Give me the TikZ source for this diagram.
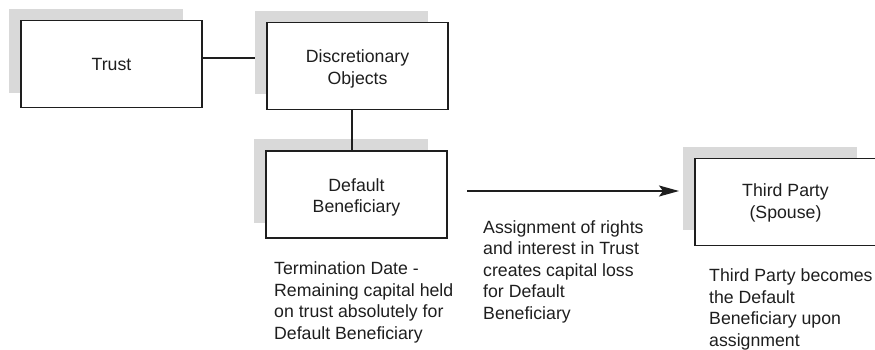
\documentclass[tikz,border=0pt]{standalone}
\usepackage{fontspec}
\setmainfont{Liberation Sans}
\usetikzlibrary{arrows.meta,calc}
\definecolor{shadowgray}{HTML}{D9D9D9}
\definecolor{inkgray}{HTML}{1E1E1E}
\tikzset{
  txt/.style={font=\fontsize{17.7}{21.5}\selectfont, text=inkgray},
  shadowbox/.style={fill=shadowgray, draw=none, inner sep=0pt, outer sep=0pt, rectangle},
  mainbox/.style={txt, draw=inkgray, line width=1.7pt, fill=white, rectangle, align=center,
    minimum width=181pt, minimum height=87pt, inner sep=0pt, outer sep=0pt},
  boxlabel/.style={txt, align=center, inner sep=0pt},
  note/.style={txt, align=left, anchor=base west, inner sep=0pt},
  link/.style={draw=inkgray, line width=1.5pt},
}
\begin{document}
\begin{tikzpicture}[x=1pt,y=-1pt]
\useasboundingbox (0,0) rectangle (875,349);
% shadows
\node[shadowbox, minimum width=174pt, minimum height=84pt] (trustS) at (96,51) {};
\node[shadowbox, minimum width=173pt, minimum height=83pt] (discS) at (341.5,52.5) {};
\node[shadowbox, minimum width=174pt, minimum height=84pt] (defS) at (341,181) {};
\node[shadowbox, minimum width=174pt, minimum height=83pt] (thirdS) at (770,188.5) {};
% boxes
\node[mainbox] (trust) at (111.5,64) {Trust};
\node[mainbox] (disc) at (357.5,66) {};
\node[mainbox] (def) at (356.5,194.5) {};
\node[mainbox] (third) at (785.5,202) {};
\node[boxlabel, yshift=-3pt] (discL) at (disc.center) {Discretionary\\Objects};
\node[boxlabel, yshift=-3pt] (defL) at (def.center) {Default\\Beneficiary};
\node[boxlabel, yshift=-1pt] (thirdL) at (third.center) {Third Party\\(Spouse)};
% connectors
\coordinate (tA) at ($(trust.east)+(0,-6)$);
\draw[link] (tA) -- (tA -| discS.west);
\coordinate (dA) at ($(disc.south)+(-5.5,0)$);
\draw[link] (dA) -- (dA |- def.north);
\coordinate (aA) at ($(def.east)+(20,-3.5)$);
\draw[link, -{Stealth[length=20pt,width=11pt,inset=4pt]}, shorten >=4pt] (aA) -- (aA -| thirdS.west);
% notes (anchored at the baseline of their last line)
\node[note] (termText) at (274,339) {Termination Date -\\Remaining capital held\\on trust absolutely for\\Default Beneficiary};
\node[note] (assignText) at (483,319) {Assignment of rights\\and interest in Trust\\creates capital loss\\for Default\\Beneficiary};
\node[note] (thirdText) at (709,346) {Third Party becomes\\the Default\\Beneficiary upon\\assignment};
\end{tikzpicture}
\end{document}
